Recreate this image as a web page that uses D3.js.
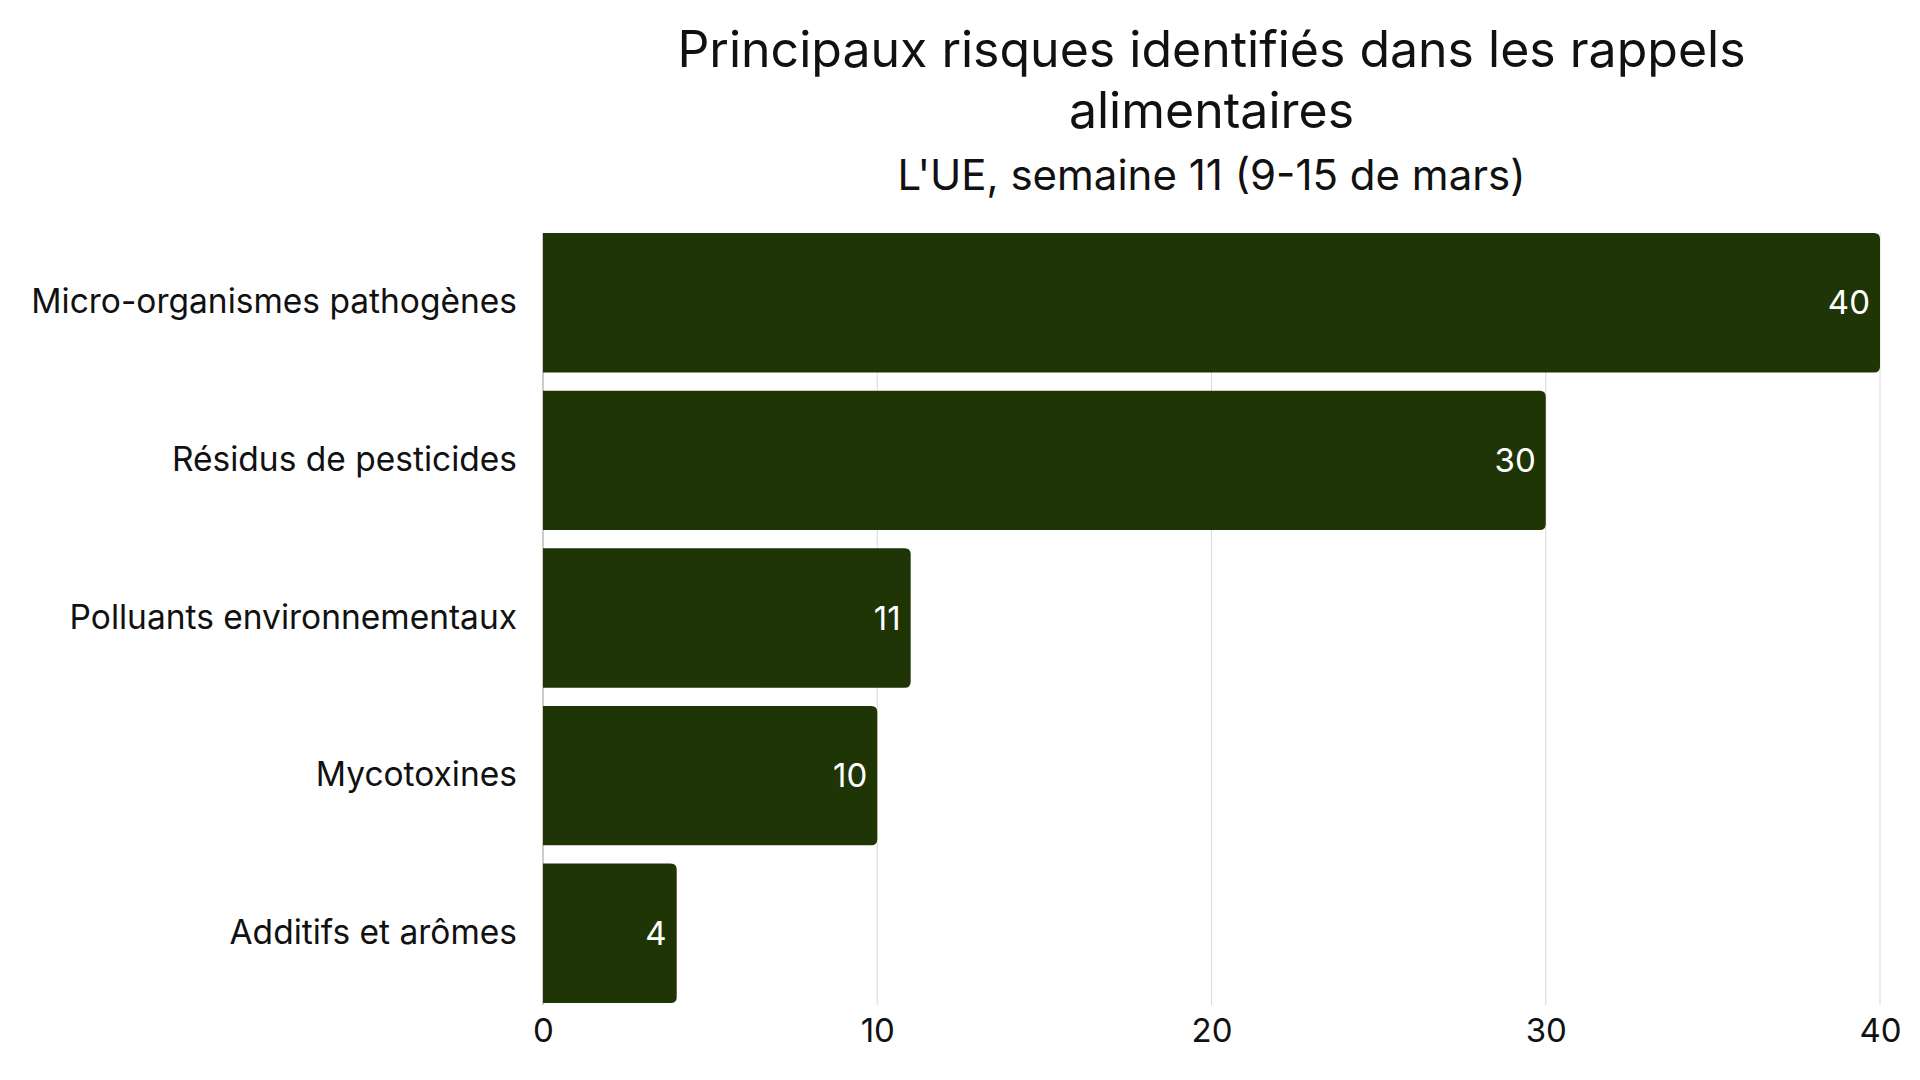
<!DOCTYPE html>
<html>
<head>
<meta charset="utf-8">
<script src="https://cdn.jsdelivr.net/npm/d3@7"></script>
<style>
  body { margin: 0; background: #fff; }
  svg text { font-family: Inter, "Noto Sans", sans-serif; }
</style>
</head>
<body>
<div id="chart"></div>
<script>
const categories = ["Micro-organismes pathogènes", "Résidus de pesticides", "Polluants environnementaux", "Mycotoxines", "Additifs et arômes"];
const values = [40, 30, 11, 10, 4];
const tickValues = [0, 10, 20, 30, 40];
const titleLines = ["Principaux risques identifiés dans les rappels", "alimentaires"];
const subtitle = "L'UE, semaine 11 (9-15 de mars)";

const width = 1920, height = 1080;
const margin = {top: 233, right: 40, bottom: 77, left: 543};
const barColor = "#1f3505";

const svg = d3.select("#chart").append("svg")
  .attr("width", width)
  .attr("height", height);

const x = d3.scaleLinear()
  .domain([0, 40])
  .range([margin.left, width - margin.right]);

const y = d3.scaleBand()
  .domain(categories)
  .range([margin.top, height - margin.bottom])
  .paddingInner(0.115)
  .paddingOuter(0);

// grid
svg.append("g")
  .selectAll("line")
  .data(tickValues)
  .enter().append("line")
  .attr("x1", d => x(d))
  .attr("x2", d => x(d))
  .attr("y1", margin.top)
  .attr("y2", height - margin.bottom + 2)
  .attr("stroke", d => d === 0 ? "#9a9a9a" : "#d9d9d9")
  .attr("stroke-width", 1);

// bars, rounded on the right only
const r = 6;
function barPath(d, i) {
  const x0 = x(0), x1 = x(values[i]), y0 = y(d), h = y.bandwidth();
  return `M${x0},${y0} H${x1 - r} Q${x1},${y0} ${x1},${y0 + r} V${y0 + h - r} Q${x1},${y0 + h} ${x1 - r},${y0 + h} H${x0} Z`;
}
svg.append("g")
  .selectAll("path")
  .data(categories)
  .enter().append("path")
  .attr("d", barPath)
  .attr("fill", barColor);

// value labels
svg.append("g")
  .selectAll("text")
  .data(categories)
  .enter().append("text")
  .attr("x", (d, i) => x(values[i]) - 10)
  .attr("y", d => y(d) + y.bandwidth() / 2)
  .attr("dy", "0.35em")
  .attr("text-anchor", "end")
  .attr("fill", "#ffffff")
  .style("font-size", "33px")
  .text((d, i) => values[i]);

// category labels
const yAxis = d3.axisLeft(y).tickSize(0).tickPadding(26);
svg.append("g")
  .attr("transform", `translate(${margin.left},0)`)
  .call(yAxis)
  .call(g => g.select(".domain").remove())
  .selectAll("text")
  .style("font-size", "33.5px")
  .attr("fill", "#111");

// x axis
const xAxis = d3.axisBottom(x).tickValues(tickValues).tickSize(0).tickPadding(16);
svg.append("g")
  .attr("transform", `translate(0,${height - margin.bottom})`)
  .call(xAxis)
  .call(g => g.select(".domain").remove())
  .selectAll("text")
  .style("font-size", "33px")
  .attr("fill", "#111");

// titles
const cx = (x(0) + x(40)) / 2;
svg.append("g")
  .selectAll("text")
  .data(titleLines)
  .enter().append("text")
  .attr("x", cx)
  .attr("y", (d, i) => 67 + i * 61)
  .attr("text-anchor", "middle")
  .attr("fill", "#111")
  .style("font-size", "50px")
  .text(d => d);

svg.append("text")
  .attr("x", cx)
  .attr("y", 190)
  .attr("text-anchor", "middle")
  .attr("fill", "#111")
  .style("font-size", "42px")
  .text(subtitle);
</script>
</body>
</html>
